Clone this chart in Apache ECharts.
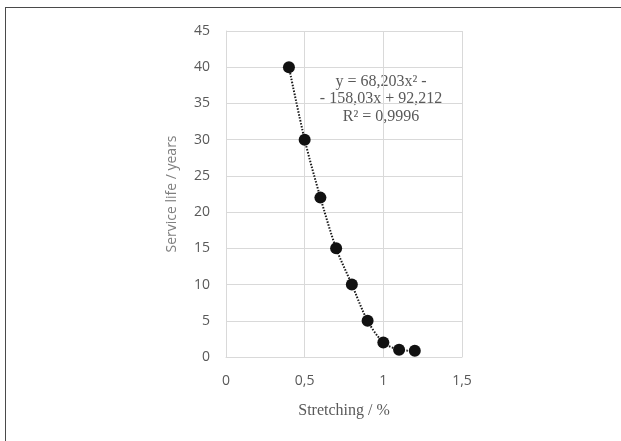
<!DOCTYPE html>
<html lang="en">

<head>
    <meta charset="UTF-8">
    <title>Service life</title>
    <script src="https://cdn.jsdelivr.net/npm/echarts@6/dist/echarts.min.js"></script>
</head>

<body>
    <div id="frame">
        <div id="myCharts" style="width: 621px;height:441px;"></div>
    </div>

    <script type="text/javascript">
        // stretching, %
        var stretching = [0.4, 0.5, 0.6, 0.7, 0.8, 0.9, 1.0, 1.1, 1.2]
        // service life, years
        var serviceLife = [40, 30, 22, 15, 10, 5, 2, 1, 0.85]
        var trendText = ['y = 68,203x² -', '- 158,03x + 92,212', 'R² = 0,9996']

        var points = stretching.map(function (x, i) {
            return [x, serviceLife[i]]
        })

        var myChart = echarts.init(document.getElementById('myCharts'))
        var labelStyle = {
            color: '#595959',
            fontFamily: 'Open Sans',
            fontSize: 14,
        }
        var option = {
            backgroundColor: '#fff',
            animation: false,
            grid: {
                left: 226,
                top: 31,
                right: 159,
                bottom: 84,
            },
            xAxis: {
                type: 'value',
                min: 0,
                max: 1.5,
                interval: 0.5,
                name: 'Stretching / %',
                nameLocation: 'middle',
                nameGap: 46,
                nameTextStyle: {
                    color: '#595959',
                    fontFamily: 'Liberation Serif',
                    fontSize: 16,
                },
                axisLine: { show: true, lineStyle: { color: '#d9d9d9' } },
                axisTick: { show: false },
                splitLine: { show: true, lineStyle: { color: '#d9d9d9' } },
                axisLabel: Object.assign({
                    margin: 17,
                    formatter: function (v) { return String(v).replace('.', ',') },
                }, labelStyle),
            },
            yAxis: {
                type: 'value',
                min: 0,
                max: 45,
                interval: 5,
                name: 'Service life / years',
                nameLocation: 'middle',
                nameGap: 47,
                nameTextStyle: {
                    color: '#7f7f7f',
                    fontFamily: 'Open Sans',
                    fontSize: 14,
                },
                axisLine: { show: true, lineStyle: { color: '#d9d9d9' } },
                axisTick: { show: false },
                splitLine: { show: true, lineStyle: { color: '#d9d9d9' } },
                axisLabel: Object.assign({ margin: 16 }, labelStyle),
            },
            series: [
                {
                    // dotted trend line through the points
                    type: 'line',
                    data: points,
                    smooth: 0.3,
                    symbol: 'none',
                    z: 1,
                    lineStyle: { color: '#1a1a1a', width: 2, type: [1.5, 1.5] },
                },
                {
                    type: 'scatter',
                    data: points,
                    symbolSize: 12,
                    z: 2,
                    itemStyle: { color: '#111', opacity: 1 },
                },
            ],
            graphic: [
                {
                    type: 'text',
                    x: 381,
                    y: 99,
                    style: {
                        text: trendText.join('\n'),
                        align: 'center',
                        verticalAlign: 'middle',
                        lineHeight: 17.5,
                        font: '16px "Liberation Serif"',
                        fill: '#595959',
                    },
                },
            ],
        }
        myChart.setOption(option, true)
    </script>
</body>

</html>

<style>
    body {
        margin: 0;
        background: #fff;
    }

    #frame {
        position: absolute;
        left: 0;
        top: 0;
        width: 621px;
        height: 441px;
    }

    #frame::before {
        content: '';
        position: absolute;
        left: 5px;
        top: 7px;
        right: 0;
        bottom: 0;
        border-top: 1.5px solid #4a4a4a;
        border-left: 1.5px solid #4a4a4a;
        z-index: 2;
        pointer-events: none;
    }
</style>
